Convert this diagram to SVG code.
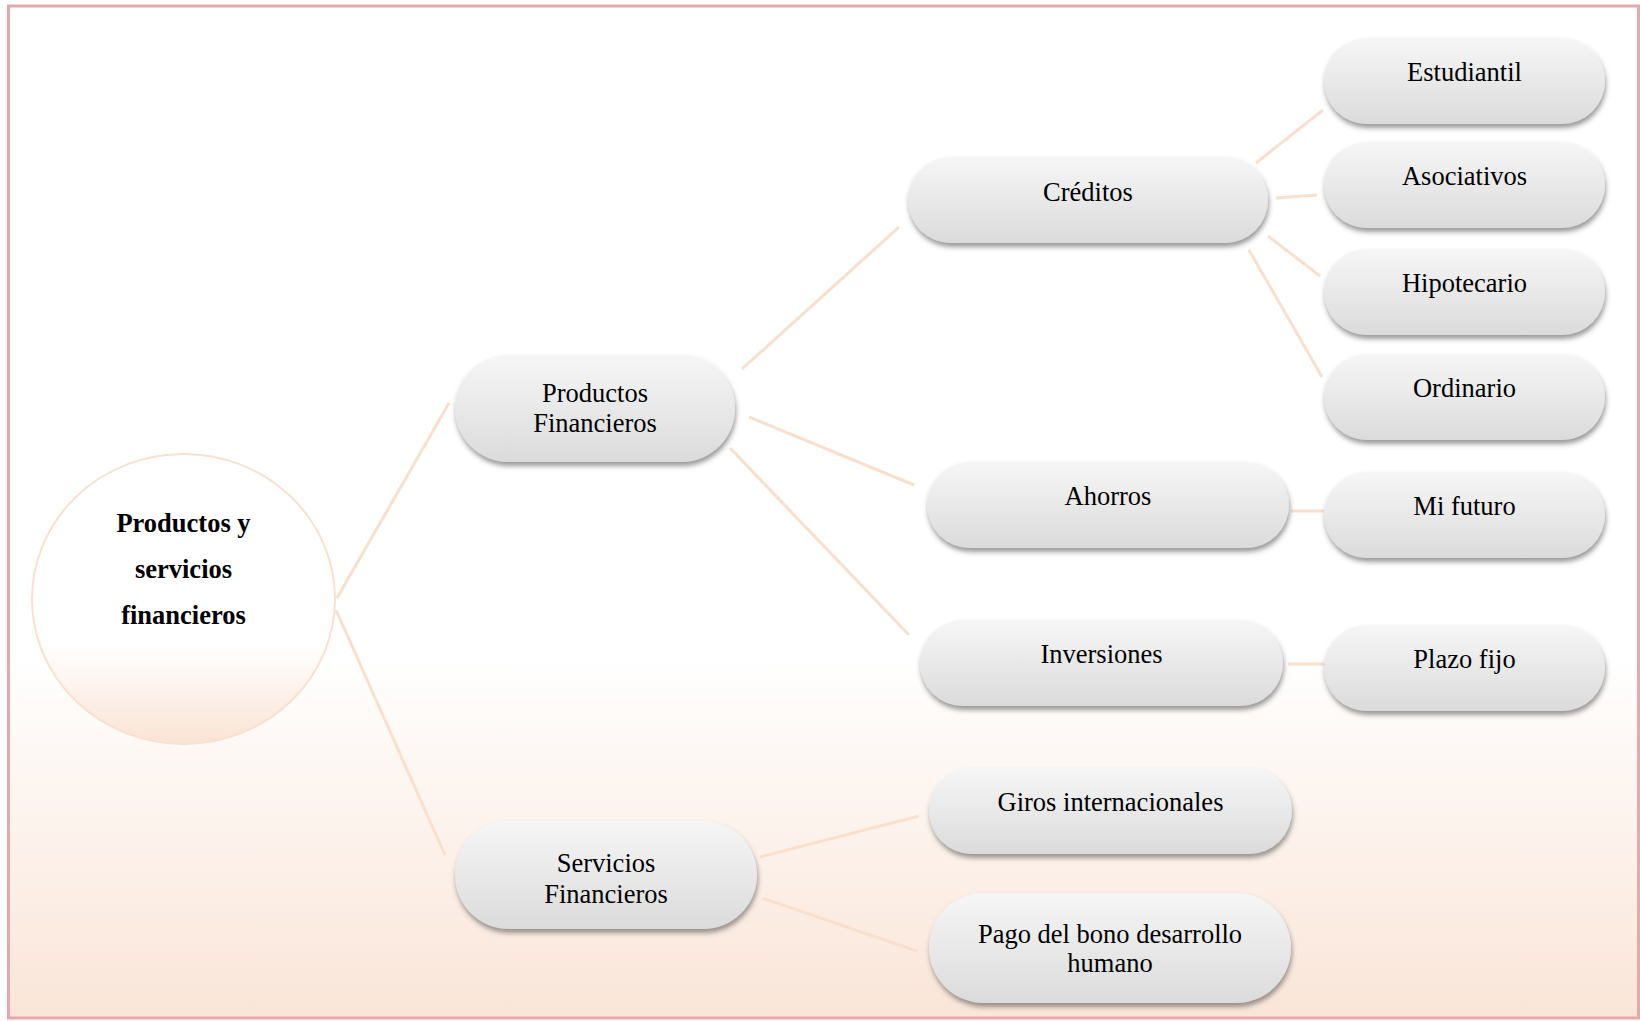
<svg xmlns="http://www.w3.org/2000/svg" width="1640" height="1021" viewBox="0 0 1640 1021">
<defs>
<linearGradient id="bg" x1="0" y1="0" x2="0" y2="1">
<stop offset="0" stop-color="#FFFFFF"/>
<stop offset="0.64" stop-color="#FFFFFF"/>
<stop offset="1" stop-color="#FAE5D8"/>
</linearGradient>
<linearGradient id="rootFill" x1="0" y1="0" x2="0" y2="1">
<stop offset="0" stop-color="#FFFFFF"/>
<stop offset="0.66" stop-color="#FFFFFF"/>
<stop offset="1" stop-color="#FAE3D4"/>
</linearGradient>
<linearGradient id="pill" x1="0" y1="0" x2="0" y2="1">
<stop offset="0" stop-color="#F6F6F6"/>
<stop offset="1" stop-color="#DBDBDB"/>
</linearGradient>
<filter id="shadow" x="-10%" y="-20%" width="120%" height="150%">
<feDropShadow dx="1" dy="4" stdDeviation="2.5" flood-color="#4a4a4a" flood-opacity="0.55"/>
</filter>
</defs>
<style>
.pill{fill:url(#pill);filter:url(#shadow);}
.t{font-family:"Liberation Serif","Times New Roman",serif;font-size:26.5px;fill:#000;text-anchor:middle;}
.tb{font-family:"Liberation Serif","Times New Roman",serif;font-size:26.5px;font-weight:bold;fill:#000;text-anchor:middle;}
.c{stroke:#FADFCD;stroke-width:3;fill:none;stroke-linecap:butt;}
</style>
<rect x="8.5" y="6" width="1630" height="1012" fill="url(#bg)" stroke="#E4A9AB" stroke-width="3"/>

<g id="connectors">
<line class="c" x1="337" y1="598" x2="449" y2="403"/>
<line class="c" x1="336" y1="610" x2="445" y2="855"/>
<line class="c" x1="742" y1="369" x2="899" y2="227"/>
<line class="c" x1="749" y1="417" x2="914" y2="485"/>
<line class="c" x1="730" y1="448" x2="909" y2="635"/>
<line class="c" x1="1256" y1="163" x2="1323" y2="110"/>
<line class="c" x1="1276" y1="198" x2="1317" y2="195"/>
<line class="c" x1="1268" y1="236" x2="1320" y2="276"/>
<line class="c" x1="1249" y1="250" x2="1322" y2="377"/>
<line class="c" x1="1291" y1="511" x2="1324" y2="511"/>
<line class="c" x1="1288" y1="664" x2="1325" y2="664"/>
<line class="c" x1="760" y1="857" x2="919" y2="816"/>
<line class="c" x1="762" y1="898" x2="917" y2="951"/>
</g>

<g id="root">
<ellipse cx="183.5" cy="599" rx="151.5" ry="145" fill="url(#rootFill)" stroke="#FAE0D0" stroke-width="2"/>
<text class="tb" x="183.5" y="532">Productos y</text>
<text class="tb" x="183.5" y="578">servicios</text>
<text class="tb" x="183.5" y="624">financieros</text>
</g>

<g id="productos-financieros">
<rect class="pill" x="455" y="355" width="280" height="107" rx="53.5"/>
<text class="t" x="595" y="402">Productos</text>
<text class="t" x="595" y="432">Financieros</text>
</g>

<g id="servicios-financieros">
<rect class="pill" x="455" y="821" width="302" height="108" rx="54"/>
<text class="t" x="606" y="872">Servicios</text>
<text class="t" x="606" y="903">Financieros</text>
</g>

<g id="creditos">
<rect class="pill" x="908" y="157" width="360" height="86" rx="43"/>
<text class="t" x="1088" y="201">Créditos</text>
</g>

<g id="ahorros">
<rect class="pill" x="927" y="462" width="362" height="86" rx="43"/>
<text class="t" x="1108" y="505">Ahorros</text>
</g>

<g id="inversiones">
<rect class="pill" x="920" y="620" width="363" height="86" rx="43"/>
<text class="t" x="1101.5" y="663">Inversiones</text>
</g>

<g id="giros">
<rect class="pill" x="929" y="768" width="363" height="86" rx="43"/>
<text class="t" x="1110.5" y="811">Giros internacionales</text>
</g>

<g id="pago-bono">
<rect class="pill" x="929" y="893" width="362" height="110" rx="55"/>
<text class="t" x="1110" y="943">Pago del bono desarrollo</text>
<text class="t" x="1110" y="972">humano</text>
</g>

<g id="estudiantil">
<rect class="pill" x="1324" y="38" width="281" height="86" rx="43"/>
<text class="t" x="1464.5" y="81">Estudiantil</text>
</g>

<g id="asociativos">
<rect class="pill" x="1324" y="142" width="281" height="86" rx="43"/>
<text class="t" x="1464.5" y="185">Asociativos</text>
</g>

<g id="hipotecario">
<rect class="pill" x="1324" y="249" width="281" height="86" rx="43"/>
<text class="t" x="1464.5" y="292">Hipotecario</text>
</g>

<g id="ordinario">
<rect class="pill" x="1324" y="354" width="281" height="86" rx="43"/>
<text class="t" x="1464.5" y="397">Ordinario</text>
</g>

<g id="mi-futuro">
<rect class="pill" x="1324" y="472" width="281" height="86" rx="43"/>
<text class="t" x="1464.5" y="515">Mi futuro</text>
</g>

<g id="plazo-fijo">
<rect class="pill" x="1324" y="625" width="281" height="86" rx="43"/>
<text class="t" x="1464.5" y="668">Plazo fijo</text>
</g>
</svg>
